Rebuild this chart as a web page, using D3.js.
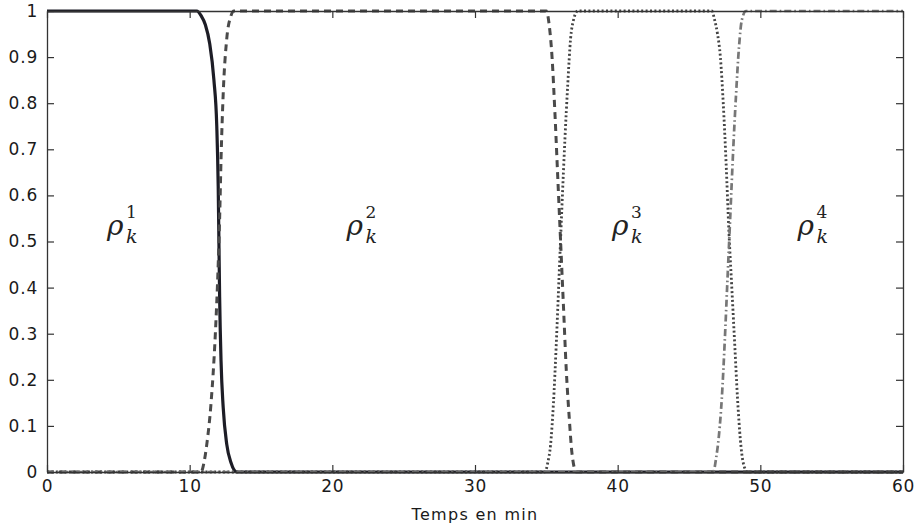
<!DOCTYPE html>
<html>
<head>
<meta charset="utf-8">
<script src="https://cdn.jsdelivr.net/npm/d3@7"></script>
<style>
  html, body { margin: 0; padding: 0; background: #fff; }
  svg { display: block; }
</style>
</head>
<body>
<svg id="chart" width="915" height="525"></svg>
<script>
// ---- data ----
const xTicks = [0, 10, 20, 30, 40, 50, 60];
const yTicks = [0, 0.1, 0.2, 0.3, 0.4, 0.5, 0.6, 0.7, 0.8, 0.9, 1];
const yTickLabels = ["0", "0.1", "0.2", "0.3", "0.4", "0.5", "0.6", "0.7", "0.8", "0.9", "1"];
const xLabel = "Temps en min";

// rho_k^1 : solid
const rho1T = [0, 10.5, 10.8, 11.1, 11.4, 11.7, 11.9, 12.0, 12.05, 12.1, 12.2, 12.35, 12.6, 12.9, 13.3, 60];
const rho1V = [1, 1, 0.99, 0.97, 0.93, 0.85, 0.75, 0.62, 0.5, 0.38, 0.24, 0.14, 0.06, 0.02, 0, 0];
// rho_k^2 : dashed
const rho2T = [0, 10.8, 11.0, 11.2, 11.5, 11.8, 12.0, 12.1, 12.2, 12.35, 12.6, 12.9, 13.1, 35.0, 35.2, 35.4, 35.6, 35.8, 36.0, 36.2, 36.4, 36.6, 36.8, 37.1, 60];
const rho2V = [0, 0, 0.02, 0.06, 0.15, 0.3, 0.45, 0.55, 0.68, 0.82, 0.94, 0.99, 1, 1, 0.97, 0.9, 0.78, 0.64, 0.5, 0.36, 0.22, 0.12, 0.04, 0, 0];
// rho_k^3 : dotted
const rho3T = [0, 34.9, 35.1, 35.3, 35.5, 35.7, 35.9, 36.1, 36.3, 36.5, 36.7, 36.9, 37.2, 46.6, 46.8, 47.0, 47.2, 47.4, 47.6, 47.8, 48.0, 48.2, 48.4, 48.6, 48.8, 49.1, 60];
const rho3V = [0, 0, 0.02, 0.06, 0.15, 0.28, 0.43, 0.58, 0.72, 0.84, 0.94, 0.98, 1, 1, 0.98, 0.95, 0.9, 0.8, 0.67, 0.52, 0.4, 0.28, 0.16, 0.07, 0.02, 0, 0];
// rho_k^4 : dash-dot
const rho4T = [0, 46.7, 46.9, 47.1, 47.3, 47.5, 47.7, 47.9, 48.1, 48.3, 48.5, 48.7, 49.0, 60];
const rho4V = [0, 0, 0.03, 0.08, 0.16, 0.28, 0.42, 0.56, 0.7, 0.82, 0.92, 0.98, 1, 1];

// label anchors (data coords)
const labelNames = ["1", "2", "3", "4"];
const labelT = [4.2, 21.0, 39.6, 52.6];
const labelV = [0.52, 0.52, 0.52, 0.52];

// ---- layout ----
const svg = d3.select("#chart");
const L = 47, R = 903, T = 11, B = 472;
const x = d3.scaleLinear().domain([0, 60]).range([L, R]);
const y = d3.scaleLinear().domain([0, 1]).range([B, T]);

svg.append("defs").append("clipPath").attr("id", "clip")
  .append("rect").attr("x", L - 2).attr("y", T - 2).attr("width", R - L + 4).attr("height", B - T + 4);

const series = [
  { t: rho1T, v: rho1V, color: "#1d1d26", width: 3.2, dash: null },
  { t: rho2T, v: rho2V, color: "#4a4a4a", width: 3.0, dash: "7,5" },
  { t: rho3T, v: rho3V, color: "#444444", width: 2.8, dash: "2,2.4" },
  { t: rho4T, v: rho4V, color: "#777777", width: 2.7, dash: "7,3,1.6,3" }
];

const line = d3.line().x(d => x(d[0])).y(d => y(d[1])).curve(d3.curveMonotoneX);

const gLines = svg.append("g").attr("clip-path", "url(#clip)");
series.forEach(s => {
  const pts = s.t.map((t, i) => [t, s.v[i]]);
  gLines.append("path")
    .datum(pts)
    .attr("d", line)
    .attr("fill", "none")
    .attr("stroke", s.color)
    .attr("stroke-width", s.width)
    .attr("stroke-dasharray", s.dash)
    .attr("stroke-linejoin", "round");
});

// ---- axes (MATLAB style box, inward ticks on all sides) ----
const tickLen = 7;
const font = "'DejaVu Sans', sans-serif";

const axB = d3.axisBottom(x).tickValues(xTicks).tickSizeInner(-tickLen).tickSizeOuter(0).tickPadding(8).tickFormat(d3.format("d"));
const axT = d3.axisTop(x).tickValues(xTicks).tickSizeInner(-tickLen).tickSizeOuter(0).tickFormat("");
const axL = d3.axisLeft(y).tickValues(yTicks).tickSizeInner(-tickLen).tickSizeOuter(0).tickPadding(9)
  .tickFormat((d, i) => yTickLabels[i]);
const axR = d3.axisRight(y).tickValues(yTicks).tickSizeInner(-tickLen).tickSizeOuter(0).tickFormat("");

function styleAxis(g) {
  g.select(".domain").attr("stroke", "#333").attr("stroke-width", 1.3);
  g.selectAll(".tick line").attr("stroke", "#333").attr("stroke-width", 1.2);
  g.selectAll(".tick text").attr("fill", "#1a1a1a").style("font-family", font).style("font-size", "17px")
    .style("letter-spacing", "0.8px");
}

svg.append("g").attr("transform", `translate(0,${B})`).call(axB).call(styleAxis);
svg.append("g").attr("transform", `translate(0,${T})`).call(axT).call(styleAxis);
svg.append("g").attr("transform", `translate(${L},0)`).call(axL).call(styleAxis);
svg.append("g").attr("transform", `translate(${R},0)`).call(axR).call(styleAxis);

// x-axis label
svg.append("text")
  .attr("x", (L + R) / 2)
  .attr("y", 520)
  .attr("text-anchor", "middle")
  .style("font-family", font)
  .style("font-size", "16px")
  .style("letter-spacing", "1.3px")
  .attr("fill", "#1a1a1a")
  .text(xLabel);

// rho labels
const serif = "'DejaVu Serif', 'Liberation Serif', serif";
labelNames.forEach((n, i) => {
  const g = svg.append("g").attr("transform", `translate(${x(labelT[i])},${y(labelV[i]) + 3})`);
  g.append("text").attr("x", 0).attr("y", 0)
    .style("font-family", serif).style("font-style", "italic").style("font-size", "28px")
    .attr("fill", "#222").text("ρ");
  g.append("text").attr("x", 19).attr("y", -17)
    .style("font-family", serif).style("font-size", "17px")
    .attr("fill", "#222").text(n);
  g.append("text").attr("x", 19).attr("y", 8)
    .style("font-family", serif).style("font-style", "italic").style("font-size", "19px")
    .attr("fill", "#222").text("k");
});
</script>
</body>
</html>
